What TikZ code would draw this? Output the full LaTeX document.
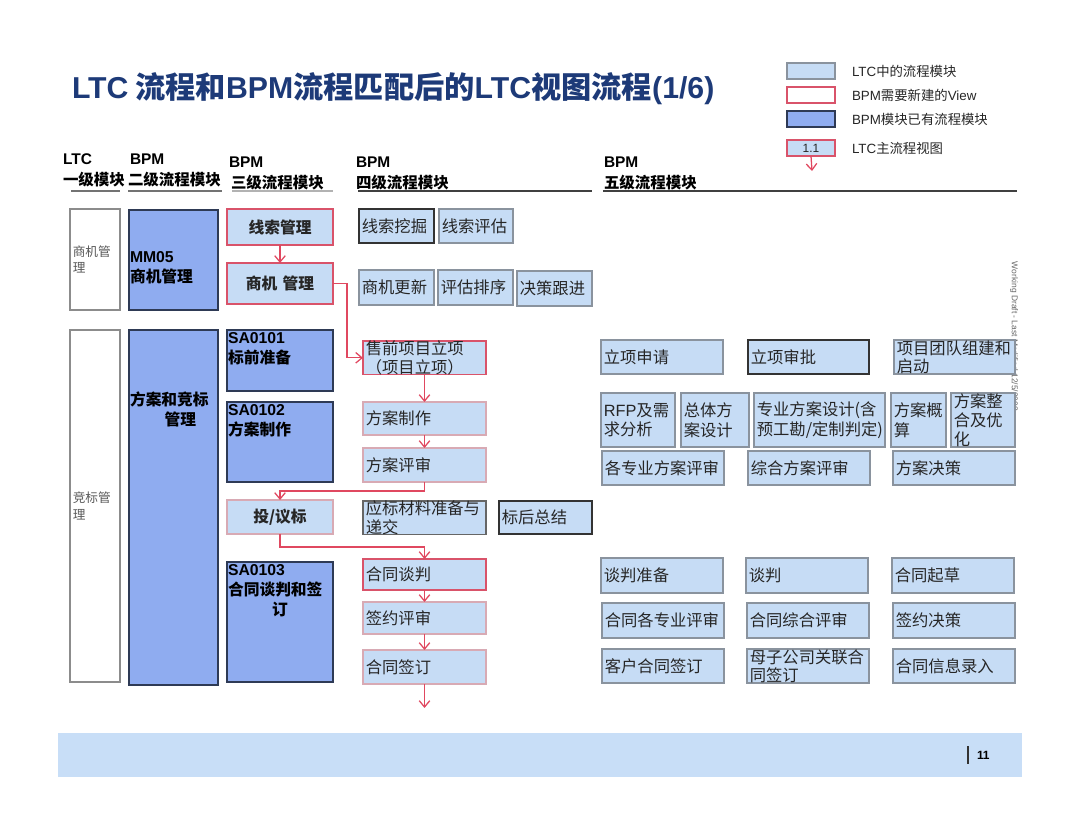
\documentclass[tikz,border=0pt]{standalone}
\usepackage{fontspec}
\setmainfont{Noto Sans CJK SC}
\newfontfamily\latfont{Liberation Sans}
\newcommand{\enf}[1]{{\latfont #1}}
\usetikzlibrary{arrows.meta}
\definecolor{ltcblue}{HTML}{C6DCF5}
\definecolor{bpmblue}{HTML}{8FACF0}
\definecolor{bpmline}{HTML}{2E3A55}
\definecolor{boxgray}{HTML}{8A939E}
\definecolor{viewred}{HTML}{D9536A}
\definecolor{palered}{HTML}{D8AAB4}
\definecolor{flowred}{HTML}{E04860}
\definecolor{titleblue}{HTML}{1D3A78}
\definecolor{footblue}{HTML}{C8DEF7}
\begin{document}
\begin{tikzpicture}[
		x=0.025cm, y=-0.025cm,
		every node/.style={inner sep=0pt, outer sep=0pt, text=black!85, font=\fontsize{11.6}{13}\selectfont},
		sz/.style 2 args={minimum width=#1*0.025cm, text width=#1*0.025cm-4pt, minimum height=#2*0.025cm},
		box/.style={anchor=north west, inner xsep=2pt, align=left, line width=0.8pt},
		ltc/.style={box, draw=boxgray, fill=ltcblue},
		ltcdk/.style={ltc, draw=black!80},
		view/.style={ltc, draw=viewred},
		pale/.style={ltc, draw=palered},
		lvl3/.style={align=center, font=\bfseries\fontsize{11.2}{13}\selectfont},
		bpm/.style={box, draw=bpmline, fill=bpmblue},
		bpmtext/.style={anchor=north west, align=left, text=black, font=\bfseries\fontsize{11.2}{14}\selectfont},
		lvl1/.style={box, draw=black!45, fill=white, text=black!65, font=\fontsize{9}{12}\selectfont},
		headtext/.style={anchor=west, text=black, font=\bfseries\fontsize{11}{13}\selectfont},
		rule/.style={line width=1.6pt},
		legtext/.style={anchor=west, font=\fontsize{9.5}{11}\selectfont},
		flow/.style={draw=flowred, line width=0.9pt, -{Straight Barb[length=4.5pt,width=7.5pt]}}
	]
	\useasboundingbox (0,0) rectangle (1080,832);

	\node[anchor=west, text=titleblue, font=\bfseries\fontsize{21.5}{24}\selectfont] (title) at (72,89) {\enf{LTC} 流程和\enf{BPM}流程匹配后的\enf{LTC}视图流程\enf{(1/6)}};

	\node[ltc, sz={48}{16}] (lg1) at (787,63) {};
	\node[view, fill=white, sz={48}{16}] (lg2) at (787,87) {};
	\node[bpm, sz={48}{16}] (lg3) at (787,111) {};
	\node[view, sz={48}{16}, align=center, font=\latfont\fontsize{8.5}{10}\selectfont] (lg4) at (787,140) {1.1};
	\coordinate (lgend) at (812,171);
	\draw[flow] (lg4.south) -- (lgend);
	\node[legtext] (lgt1) at (852,71) {\enf{LTC}中的流程模块};
	\node[legtext] (lgt2) at (852,95) {\enf{BPM}需要新建的\enf{View}};
	\node[legtext] (lgt3) at (852,119) {\enf{BPM}模块已有流程模块};
	\node[legtext] (lgt4) at (852,148) {\enf{LTC}主流程视图};

	\node[headtext, font=\latfont\bfseries\fontsize{11}{13}\selectfont] (h1a) at (63,159) {LTC};
	\node[headtext] (h1b) at (63,180) {一级模块};
	\node[headtext, font=\latfont\bfseries\fontsize{11}{13}\selectfont] (h2a) at (130,159) {BPM};
	\node[headtext] (h2b) at (128,180) {二级流程模块};
	\node[headtext, font=\latfont\bfseries\fontsize{11}{13}\selectfont] (h3a) at (229,162) {BPM};
	\node[headtext] (h3b) at (231,183) {三级流程模块};
	\node[headtext, font=\latfont\bfseries\fontsize{11}{13}\selectfont] (h4a) at (356,162) {BPM};
	\node[headtext] (h4b) at (356,183) {四级流程模块};
	\node[headtext, font=\latfont\bfseries\fontsize{11}{13}\selectfont] (h5a) at (604,162) {BPM};
	\node[headtext] (h5b) at (604,183) {五级流程模块};
	\draw[rule, black!55] (71,191) -- (120,191);
	\draw[rule, black!55] (128,191) -- (222,191);
	\draw[rule, black!30] (232,191) -- (333,191);
	\draw[rule, black!75] (358,191) -- (592,191);
	\draw[rule, black!75] (603,191) -- (1017,191);

	\node[lvl1, sz={50}{101}] (sjgl) at (70,209) {商机管\\理};
	\node[lvl1, sz={50}{352}] (jbgl) at (70,330) {竞标管\\理};

	\node[bpm, sz={89}{100}] (mm05) at (129,210) {};
	\node[bpmtext] (mm05t) at (130,252) {\enf{MM05}\\商机管理};
	\node[bpm, sz={89}{355}] (fajb) at (129,330) {};
	\node[bpmtext] (fajbt) at (130,392) {方案和竞标\\\hspace*{2.2em}管理};

	\node[view, lvl3, sz={106}{36}] (xsgl) at (227,209) {线索管理};
	\node[view, lvl3, sz={106}{41}] (sjgl3) at (227,263) {商机 管理};
	\node[bpm, sz={106}{61}] (sa1) at (227,330) {};
	\node[bpmtext] (sa1t) at (228,333) {\enf{SA0101}\\标前准备};
	\node[bpm, sz={106}{80}] (sa2) at (227,402) {};
	\node[bpmtext] (sa2t) at (228,405) {\enf{SA0102}\\方案制作};
	\node[pale, lvl3, sz={106}{34}] (tyb) at (227,500) {投/议标};
	\node[bpm, sz={106}{120}] (sa3) at (227,562) {};
	\node[bpmtext] (sa3t) at (228,565) {\enf{SA0103}\\合同谈判和签\\\hspace*{2.8em}订};

	\node[ltcdk, sz={75}{34}] (xswj) at (359,209) {线索挖掘};
	\node[ltc, sz={74}{34}] (xspg) at (439,209) {线索评估};
	\node[ltc, sz={75}{35}] (sjgx) at (359,270) {商机更新};
	\node[ltc, sz={75}{35}] (pgpx) at (438,270) {评估排序};
	\node[ltc, sz={75}{35}] (jcgj) at (517,271) {决策跟进};
	\node[view, sz={123}{33}] (sqlx) at (363,341) {售前项目立项\\（项目立项）};
	\node[pale, sz={123}{33}] (fazz) at (363,402) {方案制作};
	\node[pale, sz={123}{34}] (faps) at (363,448) {方案评审};
	\node[ltc, draw=black!60, sz={123}{33}] (ybcl) at (363,501) {应标材料准备与\\递交};
	\node[ltcdk, sz={93}{33}] (bhzj) at (499,501) {标后总结};
	\node[view, sz={123}{31}] (http) at (363,559) {合同谈判};
	\node[pale, sz={123}{32}] (qyps) at (363,602) {签约评审};
	\node[pale, sz={123}{34}] (htqd) at (363,650) {合同签订};
	\coordinate (flowend) at (424.5,708);

	\node[rotate=-90, anchor=west, text=black!60, font=\latfont\fontsize{6}{7}\selectfont] (wdraft) at (1014,262) {Working Draft - Last Modified 12/5/2008};

	\node[ltc, sz={122}{34}] (lxsq) at (601,340) {立项申请};
	\node[ltcdk, sz={121}{34}] (lxsp) at (748,340) {立项审批};
	\node[ltc, sz={121}{34}] (xmtd) at (894,340) {项目团队组建和\\启动};
	\node[ltc, sz={74}{54}, font=\fontsize{11.6}{14}\selectfont] (rfp) at (601,393) {\enf{RFP}及需\\求分析};
	\node[ltc, sz={68}{54}, font=\fontsize{11.6}{14}\selectfont] (ztfa) at (681,393) {总体方\\案设计};
	\node[ltc, sz={131}{54}, font=\fontsize{11.6}{14}\selectfont] (zyfa) at (754,393) {专业方案设计(含\\预工勘/定制判定)};
	\node[ltc, sz={55}{54}, font=\fontsize{11.6}{14}\selectfont] (fags) at (891,393) {方案概\\算};
	\node[ltc, sz={64}{54}, font=\fontsize{11.6}{13.5}\selectfont] (fazh) at (951,393) {方案整\\合及优\\化};
	\node[ltc, sz={122}{34}] (gzyps) at (602,451) {各专业方案评审};
	\node[ltc, sz={122}{34}] (zhps) at (748,451) {综合方案评审};
	\node[ltc, sz={122}{34}] (fajc) at (893,451) {方案决策};
	\node[ltc, sz={122}{35}] (tpzb) at (601,558) {谈判准备};
	\node[ltc, sz={122}{35}] (tp) at (746,558) {谈判};
	\node[ltc, sz={122}{35}] (htqc) at (892,558) {合同起草};
	\node[ltc, sz={122}{35}] (htgzy) at (602,603) {合同各专业评审};
	\node[ltc, sz={122}{35}] (htzh) at (747,603) {合同综合评审};
	\node[ltc, sz={122}{35}] (qyjc) at (893,603) {签约决策};
	\node[ltc, sz={122}{34}] (khqd) at (602,649) {客户合同签订};
	\node[ltc, sz={122}{34}] (mzgs) at (747,649) {母子公司关联合\\同签订};
	\node[ltc, sz={122}{34}] (htxx) at (893,649) {合同信息录入};

	\draw[flow] (xsgl.south) -- (sjgl3.north);
	\draw[flow] (sjgl3.east) -- ++(14,0) |- (sqlx.west);
	\draw[flow] (sqlx.south) -- (fazz.north);
	\draw[flow] (fazz.south) -- (faps.north);
	\draw[flow] (faps.south) -- ++(0,9) -| (tyb.north);
	\draw[flow] (tyb.south) -- ++(0,13) -| (http.north);
	\draw[flow] (http.south) -- (qyps.north);
	\draw[flow] (qyps.south) -- (htqd.north);
	\draw[flow] (htqd.south) -- (flowend);

	\node[anchor=north west, fill=footblue, minimum width=964*0.025cm, minimum height=44*0.025cm] (footer) at (58,733) {};
	\draw[line width=0.8pt, black!80] (968,746) -- (968,764);
	\node[anchor=west, text=black, font=\latfont\bfseries\fontsize{8.5}{10}\selectfont] (pageno) at (977,755) {11};
\end{tikzpicture}
\end{document}
